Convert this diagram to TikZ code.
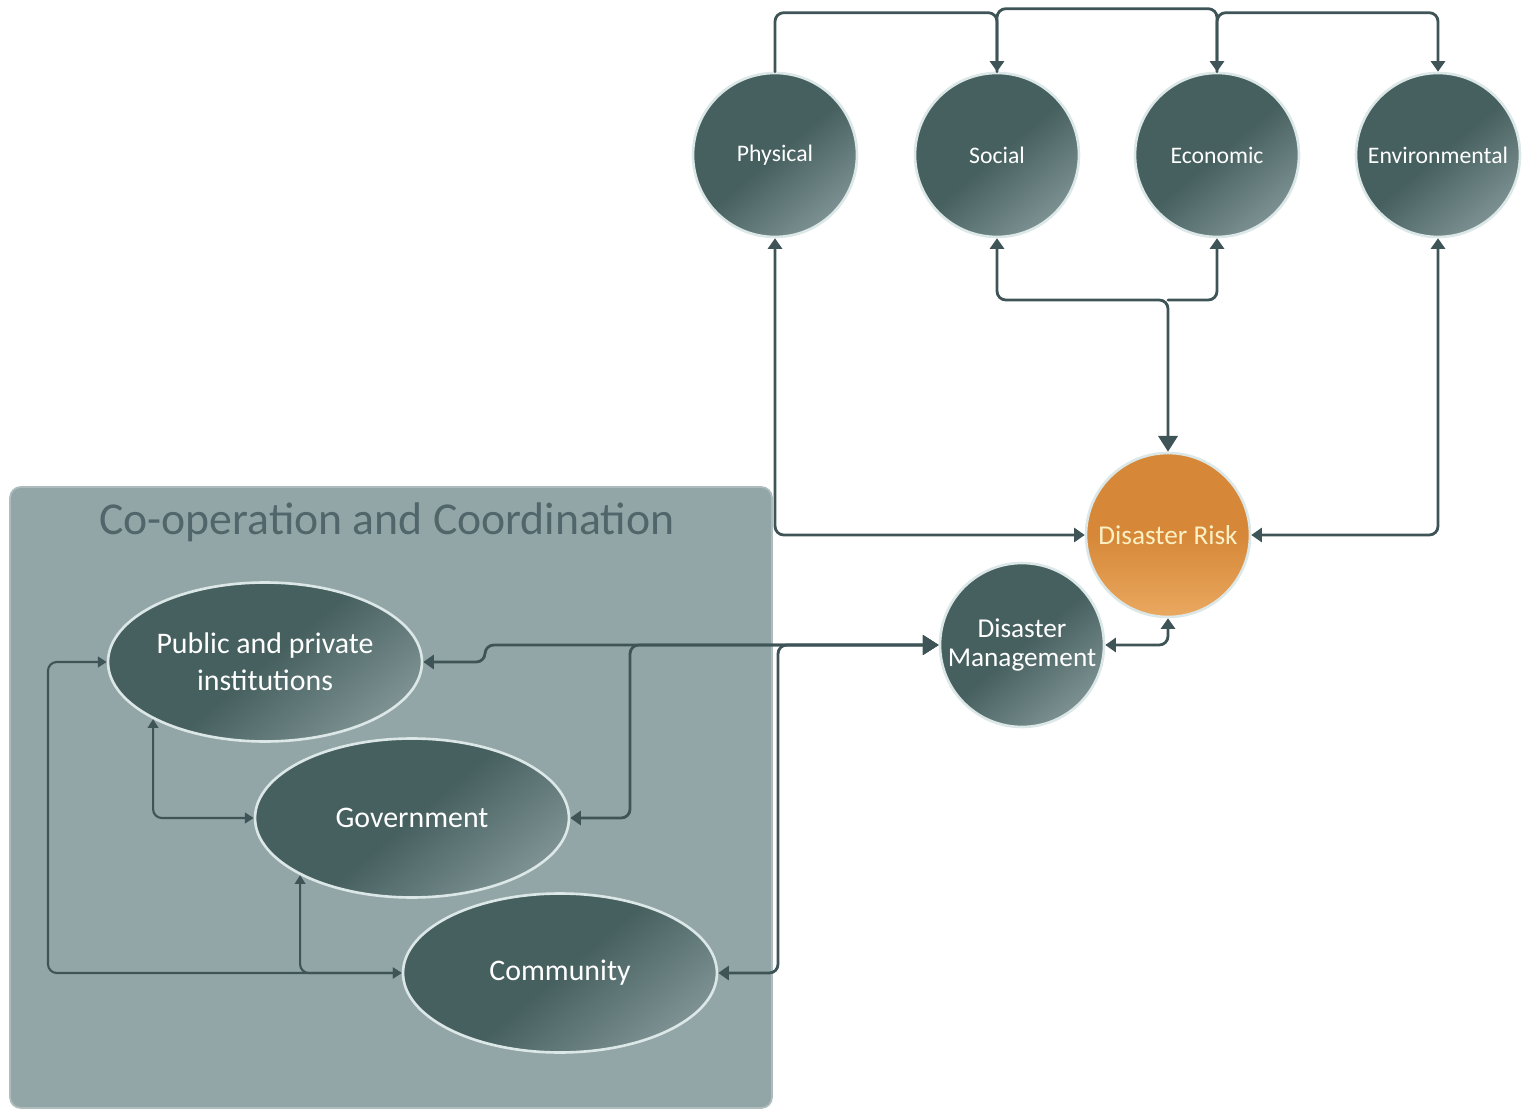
\documentclass[tikz,border=0pt]{standalone}
\usepackage{fontspec}
\setmainfont{Carlito}
\usetikzlibrary{arrows.meta,shapes.geometric}
\definecolor{linecol}{HTML}{3E5456}
\definecolor{nodedark}{HTML}{46605F}
\definecolor{nodelight}{HTML}{7D9192}
\definecolor{halo}{HTML}{DCE7E7}
\definecolor{boxfill}{HTML}{93A6A7}
\definecolor{boxedge}{HTML}{AEBCBD}
\definecolor{titlecol}{HTML}{50666A}
\definecolor{riskdark}{HTML}{D68838}
\definecolor{risklight}{HTML}{EAA85F}
\definecolor{risktext}{HTML}{FBF0C4}
\tikzset{
  every picture/.style={line join=round, line cap=round, >={Triangle[width=8pt,length=6pt]}},
  factor/.style={circle, minimum size=3.28cm, inner sep=0pt, draw=halo, line width=1.5pt,
    top color=nodedark, bottom color=nodelight, middle color=nodedark, shading angle=40,
    text=white, font=\fontsize{13.5}{16}\selectfont, align=center},
  risk/.style={factor, top color=riskdark, bottom color=risklight, middle color=riskdark, text=risktext},
  actor/.style={ellipse, minimum width=6.28cm, minimum height=3.18cm, inner sep=0pt, draw=halo, line width=1.5pt,
    top color=nodedark, bottom color=nodelight, middle color=nodedark, shading angle=40,
    text=white, font=\fontsize{17}{21}\selectfont, align=center},
  panel/.style={rectangle, rounded corners=6pt, fill=boxfill, draw=boxedge, line width=1pt,
    minimum width=15.24cm, minimum height=12.42cm},
  link/.style={draw=linecol, line width=1.6pt, rounded corners=5pt},
  inlink/.style={link, line width=1.2pt, >={Triangle[width=6pt,length=5pt]}},
  bigtip/.style={arrows={<-Triangle[width=11pt,length=9pt]}},
}
\begin{document}
\begin{tikzpicture}[x=0.02cm,y=0.02cm]
\useasboundingbox (0,0) rectangle (1524,1110);
\node[panel] (coop) at (391,312.5) {};
\node[text=titlecol, font=\fontsize{26}{30}\selectfont] (title) at (387,588) {Co-operation and Coordination};
\node[actor] (pub) at (265,448) {Public and private\\institutions};
\node[actor] (gov) at (412,292) {Government};
\node[actor] (com) at (560,137) {Community};
\node[factor] (phys) at (775,955) {Physical};
\node[factor] (soc) at (997,955) {Social};
\node[factor] (econ) at (1217,955) {Economic};
\node[factor] (env) at (1438,955) {Environmental};
\node[risk, font=\fontsize{15.5}{18}\selectfont] (dr) at (1168,575) {Disaster Risk};
\node[factor, font=\fontsize{15.5}{17}\selectfont] (dm) at (1022,465) {Disaster\\Management};
\coordinate (hub) at (1168,810);
\coordinate (jog) at (485,465);
\coordinate (gtap) at (630,465);
\coordinate (ctap) at (778,465);
\coordinate (lrail) at (48,137);
\draw[link,->] (phys.north) -- ++(0,59) -| (soc.north);
\draw[link,->] (soc.north) -- ++(0,63) -| (econ.north);
\draw[link,->] (econ.north) -- ++(0,59) -| (env.north);
\draw[link,<->] (phys.south) |- (dr.west);
\draw[link,<->] (env.south) |- (dr.east);
\draw[link,bigtip] (soc.south) |- (hub) -- (dr.north);
\draw[link,<-] (econ.south) |- (hub);
\draw[link,<->] (dm.east) -| (dr.south);
\draw[link,bigtip] (pub.east) -| (jog) -- (dm.west);
\draw[link,bigtip] (gov.east) -| (gtap) -- (dm.west);
\draw[link,bigtip] (com.east) -| (ctap) -- (dm.west);
\draw[inlink,<->] (pub.west) -| (lrail) -- (com.west);
\draw[inlink,<->] (pub.south west) |- (gov.west);
\draw[inlink,<->] (gov.south west) |- (com.west);
\end{tikzpicture}
\end{document}
